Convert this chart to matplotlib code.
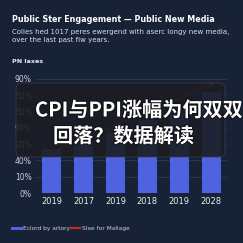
import matplotlib
matplotlib.use("Agg")
import matplotlib.pyplot as plt
import matplotlib.patheffects as pe
from matplotlib.patches import FancyBboxPatch
from matplotlib.lines import Line2D

# chart data
years = ["2019", "2017", "2019", "2018", "2019", "2028"]
bar_values = [27, 31, 37, 45, 49, 62]
line_values = [25, 33, 42, 50, 58, 67]
ytick_values = [0, 10, 20, 30, 40, 50, 60, 70]
ytick_labels = ["0%", "10%", "40%", "20%", "90%", "50%", "50%", "90%"]

bg = "#172236"
bar_color = "#4f63e0"
line_color = "#c0282a"

plt.rcParams['font.family'] = ['Noto Sans CJK SC', 'DejaVu Sans']

fig = plt.figure(figsize=(2.43, 2.43), dpi=100, facecolor=bg)
ax = fig.add_axes([36 / 243, 50 / 243, 191 / 243, 114 / 243])
ax.set_facecolor(bg)

x = list(range(len(years)))
ax.bar(x, bar_values, width=0.6, color=bar_color, zorder=2)
ax.plot(x, line_values, color=line_color, lw=0.9, zorder=3)
ax.plot(x[-1], line_values[-1], "o", color=line_color, ms=2.2, zorder=3)

ax.set_xlim(-0.5, 5.5)
ax.set_ylim(0, 70)
ax.set_xticks(x)
ax.set_xticklabels(years, fontsize=6, color="#e8ecf4", family="DejaVu Sans")
ax.set_yticks(ytick_values)
ax.set_yticklabels(ytick_labels, fontsize=5.5, color="#c9cfdc", family="DejaVu Sans")
ax.tick_params(length=0, pad=3)
ax.grid(axis="y", color="#2c3a55", lw=0.6, zorder=0)
for s in ax.spines.values():
    s.set_visible(False)
ax.axhline(0, color="#3b4a68", lw=0.8, zorder=1)

# titles
fig.text(12 / 243, 1 - 19 / 243, "Public Ster Engagement \u2014 Public New Media",
         fontsize=5.8, fontweight="bold", color="white", family="DejaVu Sans", va="center")
fig.text(12 / 243, 1 - 36 / 243,
         "Colles hed 1017 peres ewergend with aserc longy new media,\nover the last past fiw years.",
         fontsize=5.0, color="#d8dde8", family="DejaVu Sans", va="center", linespacing=1.45)
fig.text(12 / 243, 1 - 61 / 243, "PN laxes", fontsize=4.6, fontweight="bold",
         color="#e8ecf4", family="DejaVu Sans", va="center")

# legend
handles = [Line2D([0], [0], color=bar_color, lw=2.2),
           Line2D([0], [0], color=line_color, lw=1.6)]
leg = fig.legend(handles, ["Eclord by artory", "Slae for Mallage"],
                 loc="center left", bbox_to_anchor=(10 / 243, 1 - 228 / 243),
                 ncol=2, frameon=False, fontsize=4.2, handlelength=1.5,
                 handletextpad=0.25, columnspacing=0.3, borderaxespad=0)
for t in leg.get_texts():
    t.set_color("#c9cfdc")
    t.set_family("DejaVu Sans")

# overlay caption box
box = FancyBboxPatch((16 / 243, 1 - 157 / 243), 209 / 243, 74 / 243,
                     boxstyle="round,pad=0,rounding_size=0.025",
                     transform=fig.transFigure, facecolor="#1b1d24", alpha=0.9,
                     edgecolor="#3a3d47", lw=0.6, zorder=10)
fig.patches.append(box)
stroke = [pe.withStroke(linewidth=1.5, foreground="#111318")]
fig.text(35 / 243, 1 - 110 / 243, "CPI与PPI涨幅为何双双", fontsize=14.5,
         fontweight="bold", color="white", va="center", zorder=11, path_effects=stroke)
fig.text(53 / 243, 1 - 136 / 243, "回落？数据解读", fontsize=14.5,
         fontweight="bold", color="white", va="center", zorder=11, path_effects=stroke)

fig.savefig("out.png", dpi=100, facecolor=bg)
